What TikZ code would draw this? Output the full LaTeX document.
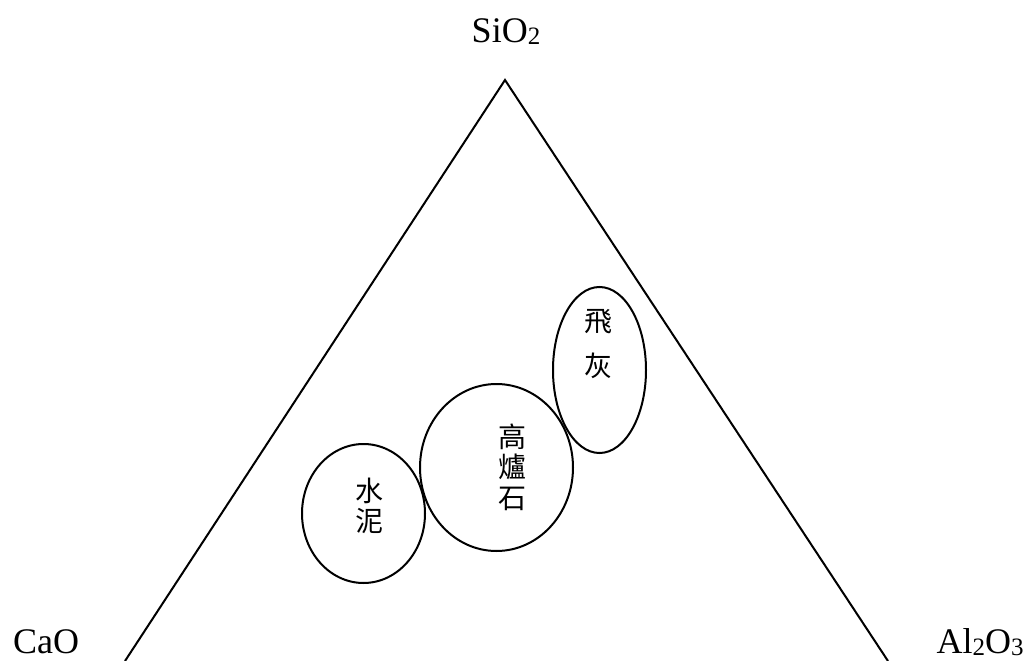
\documentclass[tikz,border=0pt]{standalone}
\usepackage{fontspec}
\setmainfont{Liberation Serif}
\newfontfamily\cjk{Noto Sans CJK TC}
\usetikzlibrary{shapes.geometric}
\newcommand{\mysub}[1]{{\fontsize{25}{25}\selectfont\raisebox{-2pt}{#1}}}
\begin{document}
\begin{tikzpicture}[x=1pt,y=-1pt,
  region/.style={draw,line width=2pt,ellipse,inner sep=0pt},
  cjklabel/.style={font=\cjk\fontsize{28}{30.5}\selectfont,align=center,inner sep=0pt},
  corner/.style={font=\fontsize{36}{40}\selectfont,inner sep=0pt,anchor=base}]
\useasboundingbox (0,0) rectangle (1029,661);
\clip (0,0) rectangle (1029,661);
\coordinate (top) at (505,80);
\coordinate (left) at (125,661);
\coordinate (right) at (888,661);
\draw[line width=2pt] (left) -- (top) -- (right);
\node[corner] (si) at (506,43) {SiO\mysub{2}};
\node[corner] (ca) at (46,653) {CaO};
\node[corner] (al) at (980,653) {Al\mysub{2}O\mysub{3}};
\node[region,minimum width=123pt,minimum height=139pt] (cement) at (363.5,513.5) {};
\node[region,minimum width=153pt,minimum height=167pt] (slag) at (496.5,467.5) {};
\node[region,minimum width=93pt,minimum height=166pt] (ash) at (599.5,370) {};
\node[cjklabel] (tcement) at (369,506) {水\\泥};
\node[cjklabel] (tslag) at (512,467) {高\\爐\\石};
\node[cjklabel] (tash) at (598,344) {飛\\[15pt]灰};
\end{tikzpicture}
\end{document}
